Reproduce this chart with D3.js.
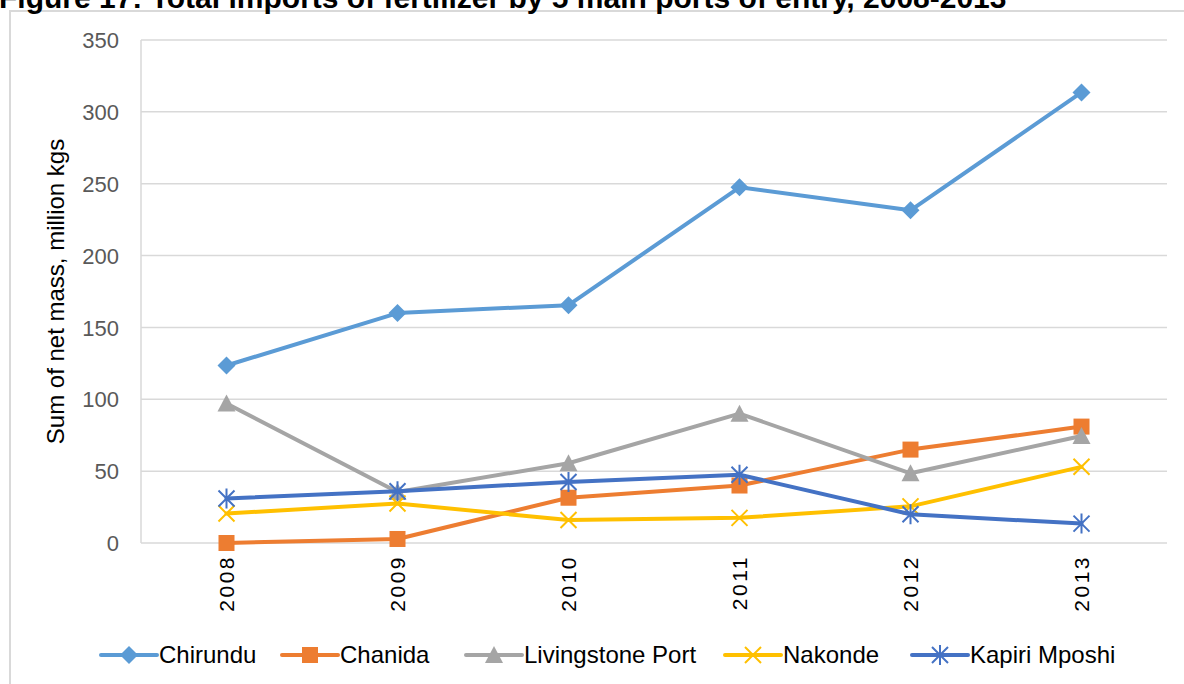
<!DOCTYPE html>
<html lang="en">
<head>
<meta charset="utf-8">
<title>Fertilizer imports by port of entry</title>
<script src="https://d3js.org/d3.v7.min.js"></script>
<style>
  body { margin: 0; background: #fff; }
  svg text { font-family: "Liberation Sans", Arial, sans-serif; }
  .grid line { stroke: #d9d9d9; stroke-width: 1.5; }
  .ytick text { fill: #595959; font-size: 22px; }
  .xtick text { fill: #000; font-size: 21px; letter-spacing: 2.5px; }
</style>
</head>
<body>
<script>
// data (million kgs)
var years = ["2008", "2009", "2010", "2011", "2012", "2013"];
var chirundu    = [123.5, 160, 165.5, 247.5, 231.5, 313.5];
var chanida     = [0, 2.8, 31.5, 40, 65, 81];
var livingstone = [97, 35.5, 55.5, 90, 48.5, 74.5];
var nakonde     = [20.5, 27.5, 16, 17.5, 25.5, 53];
var kapiri      = [31, 36, 42.5, 47.5, 20, 13.5];
var yTicks = [0, 50, 100, 150, 200, 250, 300, 350];

var series = [
  {name: "Chirundu", values: chirundu, color: "#5b9bd5", marker: "diamond"},
  {name: "Chanida", values: chanida, color: "#ed7d31", marker: "square"},
  {name: "Livingstone Port", values: livingstone, color: "#a5a5a5", marker: "triangle"},
  {name: "Nakonde", values: nakonde, color: "#ffc000", marker: "x"},
  {name: "Kapiri Mposhi", values: kapiri, color: "#4472c4", marker: "star"}
];

var width = 1184, height = 684;
// plot area edges (note: "top" is taken by window.top, so prefix them)
var plotLeft = 141, plotRight = 1167, plotTop = 40, plotBottom = 543;

var svg = d3.select("body").append("svg")
  .attr("width", width)
  .attr("height", height);

// outer frame of the chart object
svg.append("rect")
  .attr("x", 10).attr("y", 11)
  .attr("width", width).attr("height", height)
  .attr("fill", "none").attr("stroke", "#d9d9d9").attr("stroke-width", 2);

// title, cut off at the top like in the source page
svg.append("text")
  .attr("x", -1).attr("y", 8)
  .attr("font-size", 30).attr("font-weight", "bold")
  .text("Figure 17: Total imports of fertilizer by 5 main ports of entry, 2008-2013");

var x = d3.scaleBand().domain(years).range([plotLeft, plotRight]);
var y = d3.scaleLinear().domain([0, 350]).range([plotBottom, plotTop]);

// horizontal gridlines
svg.append("g").attr("class", "grid")
  .selectAll("line").data(yTicks).enter().append("line")
  .attr("x1", plotLeft).attr("x2", plotRight)
  .attr("y1", function(d){ return y(d); })
  .attr("y2", function(d){ return y(d); });

// left edge line of the plot area
svg.append("line")
  .attr("x1", plotLeft).attr("x2", plotLeft)
  .attr("y1", y(350)).attr("y2", y(0))
  .attr("stroke", "#d9d9d9").attr("stroke-width", 1.5);

// y axis labels
var yAxis = svg.append("g").attr("class", "ytick")
  .attr("transform", "translate(" + (plotLeft - 22) + ",0)")
  .call(d3.axisLeft(y).tickValues(yTicks).tickSize(0).tickPadding(0));
yAxis.select(".domain").remove();
yAxis.selectAll("text").attr("font-family", null).attr("font-size", null).attr("dy", "0.35em");

// x axis labels, rotated
var xAxis = svg.append("g").attr("class", "xtick")
  .attr("transform", "translate(0," + plotBottom + ")")
  .call(d3.axisBottom(x).tickSize(0).tickPadding(0));
xAxis.select(".domain").remove();
xAxis.selectAll("text")
  .attr("font-family", null).attr("font-size", null)
  .attr("text-anchor", "end")
  .attr("transform", "rotate(-90)")
  .attr("x", -12).attr("y", 0).attr("dy", "0.35em");

// y axis title
svg.append("text")
  .attr("transform", "translate(64," + ((plotTop + plotBottom) / 2) + ") rotate(-90)")
  .attr("text-anchor", "middle")
  .attr("font-size", 24)
  .text("Sum of net mass, million kgs");

function drawMarker(g, type, color) {
  var s = 8;
  if (type === "diamond") {
    g.append("path").attr("d", "M0,-9L9,0L0,9L-9,0Z").attr("fill", color);
  } else if (type === "square") {
    g.append("rect").attr("x", -s).attr("y", -s).attr("width", 2 * s).attr("height", 2 * s).attr("fill", color);
  } else if (type === "triangle") {
    g.append("path").attr("d", "M0,-9L9,8L-9,8Z").attr("fill", color);
  } else if (type === "x") {
    g.append("path").attr("d", "M-8,-8L8,8M-8,8L8,-8").attr("stroke", color).attr("stroke-width", 2).attr("fill", "none");
  } else {
    g.append("path").attr("d", "M-8,-8L8,8M-8,8L8,-8M0,-10L0,10").attr("stroke", color).attr("stroke-width", 2).attr("fill", "none");
  }
}

var line = d3.line()
  .x(function(d, i){ return x(years[i]) + x.bandwidth() / 2; })
  .y(function(d){ return y(d); });

series.forEach(function(s) {
  svg.append("path")
    .attr("d", line(s.values))
    .attr("fill", "none")
    .attr("stroke", s.color)
    .attr("stroke-width", 4)
    .attr("stroke-linejoin", "round")
    .attr("stroke-linecap", "round");
  s.values.forEach(function(v, i) {
    var g = svg.append("g")
      .attr("transform", "translate(" + (x(years[i]) + x.bandwidth() / 2) + "," + y(v) + ")");
    drawMarker(g, s.marker, s.color);
  });
});

// legend
var legendX = [101, 282, 466, 725, 912];
var legendY = 655;
series.forEach(function(s, i) {
  var lg = svg.append("g").attr("transform", "translate(" + legendX[i] + "," + legendY + ")");
  lg.append("line").attr("x1", 0).attr("x2", 56)
    .attr("stroke", s.color).attr("stroke-width", 4).attr("stroke-linecap", "round");
  var m = lg.append("g").attr("transform", "translate(28,0)");
  drawMarker(m, s.marker, s.color);
  lg.append("text").attr("x", 58).attr("dy", "0.35em")
    .attr("font-size", 24).text(s.name);
});
</script>
</body>
</html>
